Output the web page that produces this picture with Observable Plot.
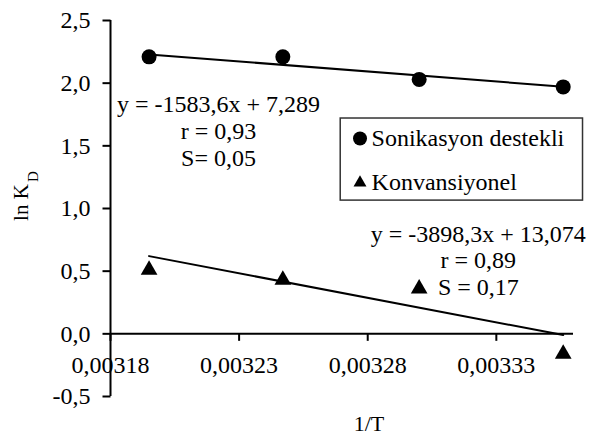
<!DOCTYPE html>
<html>
<head>
<meta charset="utf-8">
<script src="https://cdn.jsdelivr.net/npm/d3@7"></script>
<script src="https://cdn.jsdelivr.net/npm/@observablehq/plot@0.6"></script>
<style>
  html, body { margin: 0; padding: 0; background: #fff; }
  #chart { width: 590px; height: 443px; }
  #chart svg, #chart svg text { font-family: "Liberation Serif", "Times New Roman", "DejaVu Serif", serif !important; }
</style>
</head>
<body>
<div id="chart"></div>
<script>
// ---- data ----
const invT = [0.003195, 0.003247, 0.003300, 0.003356];
const sonikasyon = [2.21, 2.21, 2.03, 1.97];
const konvansiyonel = [0.51, 0.43, 0.36, -0.16];

// trend line endpoints
const trendX = [0.003195, 0.003356];
const sonTrend = [2.229, 1.972];
const konTrend = [0.620, -0.010];

const xTicks = [0.00318, 0.00323, 0.00328, 0.00333];
const yTicks = [-0.5, 0, 0.5, 1.0, 1.5, 2.0, 2.5];
const xDomain = [0.00318, 0.00336];
const yDomain = [-0.5, 2.5];

const seriesNames = ["Sonikasyon destekli", "Konvansiyonel"];
const sonEq = "y = -1583,6x + 7,289\nr = 0,93\nS= 0,05";
const konEq = "y = -3898,3x + 13,074\nr = 0,89\nS = 0,17";

// ---- build tables ----
const sonData = invT.map((x, i) => ({x, y: sonikasyon[i]}));
const konData = invT.map((x, i) => ({x, y: konvansiyonel[i]}));
const sonLine = trendX.map((x, i) => ({x, y: sonTrend[i]}));
const konLine = trendX.map((x, i) => ({x, y: konTrend[i]}));

const font = "Liberation Serif";
const tickDown = { draw(ctx) { ctx.moveTo(0, 0); ctx.lineTo(0, 7); } };
const tickLeft = { draw(ctx) { ctx.moveTo(0, 0); ctx.lineTo(-8, 0); } };
const comma = (d, n) => d.toFixed(n).replace(".", ",");

const chart = Plot.plot({
  width: 590,
  height: 443,
  marginLeft: 110,
  marginRight: 17,
  marginTop: 20,
  marginBottom: 47,
  style: { fontFamily: font, background: "#fff", color: "#000", overflow: "visible" },
  x: { domain: xDomain, axis: null },
  y: { domain: yDomain, axis: null },
  marks: [
    // y axis
    Plot.ruleX([xDomain[0]], { stroke: "#000", strokeWidth: 2 }),
    Plot.dot(yTicks, { x: xDomain[0], y: d => d, symbol: tickLeft, stroke: "#000", strokeWidth: 2, fill: "none" }),
    Plot.text(yTicks, { x: xDomain[0], y: d => d, dx: -20, textAnchor: "end", text: d => comma(d, 1), fontSize: 24, fill: "#000", fontFamily: font }),
    // x axis at y = 0
    Plot.ruleY([0], { stroke: "#000", strokeWidth: 2 }),
    Plot.dot(xTicks, { x: d => d, y: 0, symbol: tickDown, stroke: "#000", strokeWidth: 2, fill: "none" }),
    Plot.text(xTicks, { x: d => d, y: 0, dy: 31, text: d => comma(d, 5), fontSize: 24, fill: "#000", fontFamily: font }),
    // trend lines
    Plot.line(sonLine, { x: "x", y: "y", stroke: "#000", strokeWidth: 2 }),
    Plot.line(konLine, { x: "x", y: "y", stroke: "#000", strokeWidth: 2 }),
    // points
    Plot.dot(sonData, { x: "x", y: "y", symbol: "circle", r: 7.5, fill: "#000" }),
    Plot.dot(konData, { x: "x", y: "y", symbol: "triangle", r: 6.2, fill: "#000" }),
    // equations
    Plot.text([sonEq], { x: 0.003222, y: 1.624, text: d => d, fontSize: 24, lineHeight: 1.13, fill: "#000", fontFamily: font }),
    Plot.text([konEq], { x: 0.003323, y: 0.59, text: d => d, fontSize: 24, lineHeight: 1.1, fill: "#000", fontFamily: font }),
    // legend
    Plot.rect([0], { x1: 0.0032695, x2: 0.0033637, y1: 1.063, y2: 1.718, fill: "#fff", stroke: "#333", strokeWidth: 1.5 }),
    Plot.dot([seriesNames[0]], { x: 0.003277, y: 1.559, symbol: "circle", r: 7, fill: "#000" }),
    Plot.dot([seriesNames[1]], { x: 0.003277, y: 1.205, symbol: "triangle", r: 4.8, fill: "#000" }),
    Plot.text(seriesNames, { x: 0.0032815, y: [1.559, 1.21], text: d => d, textAnchor: "start", fontSize: 24, fill: "#000", fontFamily: font }),
    // axis labels
    Plot.text(["1/T"], { frameAnchor: "bottom", lineAnchor: "middle", dx: 27, dy: 27, text: d => d, fontSize: 22, fill: "#000", fontFamily: font }),
    Plot.text(["ln K"], { frameAnchor: "left", textAnchor: "middle", lineAnchor: "middle", rotate: -90, dx: -89, dy: -6, text: d => d, fontSize: 21, fill: "#000", fontFamily: font }),
    Plot.text(["D"], { frameAnchor: "left", textAnchor: "middle", lineAnchor: "middle", rotate: -90, dx: -77, dy: -32, text: d => d, fontSize: 15, fill: "#000", fontFamily: font })
  ]
});
document.getElementById("chart").appendChild(chart);
</script>
</body>
</html>
